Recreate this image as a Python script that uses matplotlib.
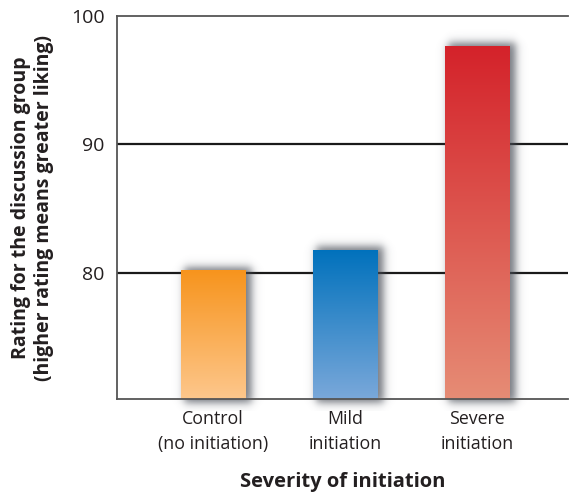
#!/usr/bin/env python3
"""Initiation severity vs. liking of the discussion group"""
import numpy as np
import matplotlib
matplotlib.use('Agg')
import matplotlib.pyplot as plt
from matplotlib.colors import LinearSegmentedColormap
from matplotlib.patches import Rectangle

plt.rcParams['font.family'] = ['Open Sans', 'DejaVu Sans']

# ---------- data ----------
groups = ['Control\n(no initiation)', 'Mild\ninitiation', 'Severe\ninitiation']
ratings = [80.2, 81.8, 97.7]
top_colors = ['#F7941D', '#0071BC', '#D4222A']
bottom_colors = ['#FDC78C', '#7AA8DA', '#E68C75']
yticks = [80, 90, 100]

Y0, Y1 = 70.15, 100
BAR_W = 0.485

fig = plt.figure(figsize=(5.69, 4.94), dpi=100)
ax = fig.add_axes([117 / 569, 1 - 399 / 494, 451 / 569, 383 / 494])
ax.set_xlim(-0.727, 2.69)
ax.set_ylim(Y0, Y1)

# pixel scale, for the shadows
px_x = (2.69 + 0.727) / 451
px_y = (Y1 - Y0) / 383

def soft_box(t, a, b, s):
    return 0.5 * (np.tanh((t - a) / s) - np.tanh((t - b) / s))

# gridlines
for yv in [80, 90]:
    ax.axhline(yv, color='#1a1a1a', lw=1.6, zorder=1)

xs = np.arange(len(groups))
bars = ax.bar(xs, [r - Y0 for r in ratings], bottom=Y0, width=BAR_W,
              color='none', zorder=3)

for i, b in enumerate(bars):
    x0, w = b.get_x(), b.get_width()
    top = b.get_y() + b.get_height()

    # blurred drop shadow to the right
    pad = 30
    gx = np.linspace(x0 - pad * px_x, x0 + w + pad * px_x, 200)
    gy = np.linspace(Y0 - 12 * px_y, top + pad * px_y, 300)
    ax_x = soft_box(gx, x0 + 3 * px_x, x0 + w + 6 * px_x, 5 * px_x)
    ax_y = soft_box(gy, Y0 - 4 * px_y, top + 3 * px_y, 5 * px_y)
    alpha = np.outer(ax_y[::-1], ax_x) * 0.75
    rgba = np.zeros(alpha.shape + (4,))
    rgba[..., :3] = np.array([0.28, 0.30, 0.34])
    rgba[..., 3] = alpha
    ax.imshow(rgba, extent=(gx[0], gx[-1], gy[0], gy[-1]), aspect='auto',
              zorder=2, clip_on=False, interpolation='bilinear')

    # gradient fill
    cmap = LinearSegmentedColormap.from_list('g%d' % i, [bottom_colors[i], top_colors[i]])
    grad = np.linspace(0, 1, 256).reshape(-1, 1)
    im = ax.imshow(grad, extent=(x0, x0 + w, Y0, top), origin='lower',
                   aspect='auto', cmap=cmap, zorder=3)
    im.set_clip_path(Rectangle((x0, Y0), w, top - Y0, transform=ax.transData))

ax.set_xlim(-0.727, 2.69)
ax.set_ylim(Y0, Y1)

# spines
for side in ['left', 'top', 'bottom']:
    ax.spines[side].set_color('#555555')
    ax.spines[side].set_linewidth(1.3)
    ax.spines[side].set_zorder(4)
ax.spines['right'].set_visible(False)

ax.set_yticks(yticks)
ax.set_yticklabels([str(t) for t in yticks], fontsize=14, color='#231f20')
ax.set_xticks(xs)
ax.set_xticklabels(groups, fontsize=12.8, color='#231f20', linespacing=1.5)
ax.tick_params(axis='both', length=0)
ax.tick_params(axis='y', pad=9)
ax.tick_params(axis='x', pad=8)

ax.set_ylabel('Rating for the discussion group\n(higher rating means greater liking)',
              fontsize=14, fontweight='bold', color='#231f20', labelpad=12,
              linespacing=1.2)
ax.set_xlabel('Severity of initiation', fontsize=14.5, fontweight='bold',
              color='#231f20', va='center')
ax.xaxis.set_label_coords(0.5, -0.218)

fig.savefig('out.png', dpi=100)
plt.close(fig)
